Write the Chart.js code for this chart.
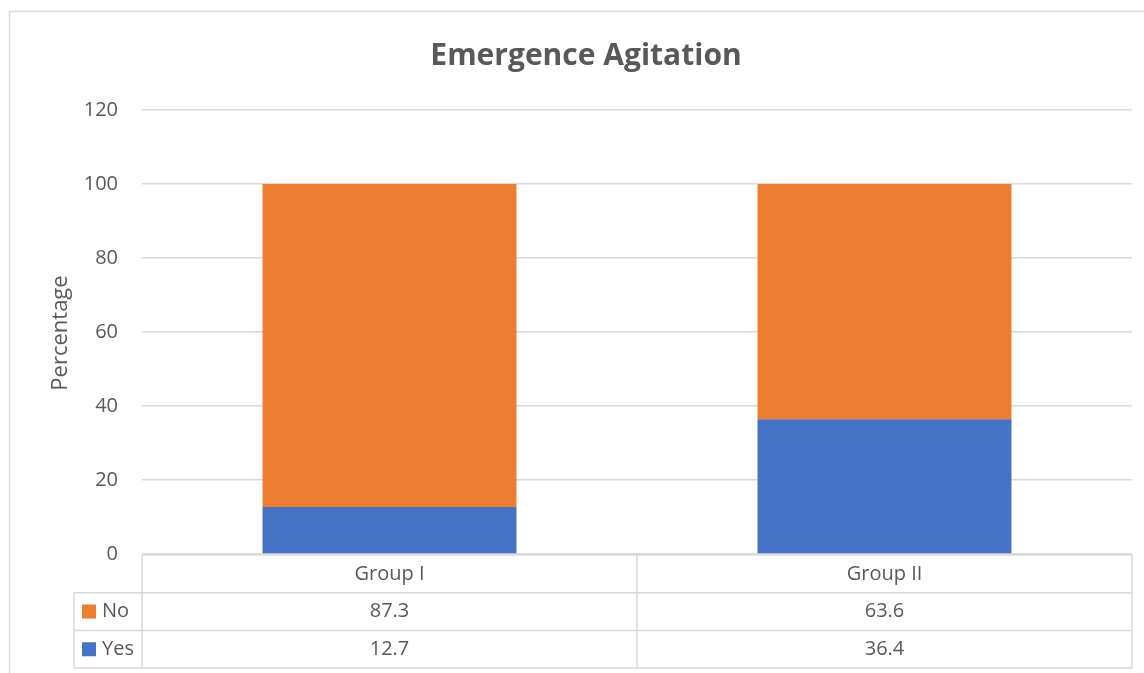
<!DOCTYPE html>
<html>
<head>
<meta charset="utf-8">
<script src="https://cdn.jsdelivr.net/npm/chart.js@4/dist/chart.umd.min.js"></script>
<style>
    html, body { margin: 0; padding: 0; background: #ffffff; }
    #wrap { position: relative; width: 1144px; height: 673px; }
</style>
</head>
<body>
<div id="wrap"><canvas id="agitationChart" width="1144" height="673"></canvas></div>
<script>
// Chart data
const categories = ['Group I', 'Group II'];
const seriesNames = ['No', 'Yes'];
const noValues = [87.3, 63.6];
const yesValues = [12.7, 36.4];
const yTicks = [0, 20, 40, 60, 80, 100, 120];

const chartTitle = 'Emergence Agitation';
const yAxisTitle = 'Percentage';

const textColor = '#595959';
const lineColor = '#d9d9d9';
const noColor = '#ED7D31';
const yesColor = '#4472C4';
const fontFamily = '"Open Sans", "Noto Sans", sans-serif';

// Draws title, axis title, outer border and the data table under the plot
const excelExtras = {
    id: 'excelExtras',
    afterDraw(chart) {
        const ctx = chart.ctx;
        const area = chart.chartArea;
        const xScale = chart.scales.x;

        ctx.save();

        // outer chart border
        ctx.strokeStyle = lineColor;
        ctx.lineWidth = 1.5;
        ctx.strokeRect(9.5, 11.5, 1170, 700);

        // title
        ctx.fillStyle = textColor;
        ctx.font = 'bold 30px ' + fontFamily;
        ctx.textAlign = 'center';
        ctx.textBaseline = 'middle';
        ctx.fillText(chartTitle, 586, 56);

        // y axis title
        ctx.save();
        ctx.translate(61, (area.top + area.bottom) / 2 + 1);
        ctx.rotate(-Math.PI / 2);
        ctx.font = '22px ' + fontFamily;
        ctx.fillText(yAxisTitle, 0, 0);
        ctx.restore();

        // data table
        const rowH = 37.7;
        const top = area.bottom + 1;
        const keyLeft = 74;
        const rows = [
            { name: seriesNames[0], color: noColor, values: noValues },
            { name: seriesNames[1], color: yesColor, values: yesValues }
        ];

        ctx.strokeStyle = lineColor;
        ctx.lineWidth = 1.5;
        ctx.beginPath();
        // top border of header row
        ctx.moveTo(area.left, top);
        ctx.lineTo(area.right, top);
        // row lines
        for (let r = 1; r <= rows.length + 1; r++) {
            ctx.moveTo(keyLeft, top + r * rowH);
            ctx.lineTo(area.right, top + r * rowH);
        }
        // verticals
        ctx.moveTo(keyLeft, top + rowH);
        ctx.lineTo(keyLeft, top + (rows.length + 1) * rowH);
        ctx.moveTo(area.left, top);
        ctx.lineTo(area.left, top + (rows.length + 1) * rowH);
        for (let i = 0; i < categories.length - 1; i++) {
            const mid = (xScale.getPixelForValue(i) + xScale.getPixelForValue(i + 1)) / 2;
            ctx.moveTo(mid, top);
            ctx.lineTo(mid, top + (rows.length + 1) * rowH);
        }
        ctx.moveTo(area.right, top);
        ctx.lineTo(area.right, top + (rows.length + 1) * rowH);
        ctx.stroke();

        ctx.fillStyle = textColor;
        ctx.font = '20px ' + fontFamily;
        ctx.textAlign = 'center';
        ctx.textBaseline = 'middle';
        categories.forEach((cat, i) => {
            ctx.fillText(cat, xScale.getPixelForValue(i), top + rowH / 2);
        });

        rows.forEach((row, r) => {
            const cy = top + (r + 1) * rowH + rowH / 2;
            ctx.fillStyle = row.color;
            ctx.fillRect(82, cy - 7, 14, 14);
            ctx.fillStyle = textColor;
            ctx.textAlign = 'left';
            ctx.fillText(row.name, 102, cy);
            ctx.textAlign = 'center';
            row.values.forEach((v, i) => {
                ctx.fillText(v.toFixed(1), xScale.getPixelForValue(i), cy);
            });
        });

        ctx.restore();
    }
};

const chart = new Chart(document.getElementById('agitationChart'), {
    type: 'bar',
    data: {
        labels: categories,
        datasets: [
            {
                label: seriesNames[1],
                data: yesValues,
                backgroundColor: yesColor,
                barPercentage: 0.513,
                categoryPercentage: 1
            },
            {
                label: seriesNames[0],
                data: noValues,
                backgroundColor: noColor,
                barPercentage: 0.513,
                categoryPercentage: 1
            }
        ]
    },
    options: {
        responsive: false,
        animation: false,
        layout: {
            padding: { top: 110, bottom: 119, left: 0, right: 12 }
        },
        plugins: {
            legend: { display: false },
            title: { display: false },
            tooltip: { enabled: false }
        },
        scales: {
            x: {
                stacked: true,
                grid: { display: false },
                border: { display: false },
                ticks: { display: false },
                afterFit: (scale) => { scale.height = 0; }
            },
            y: {
                stacked: true,
                min: 0,
                max: 120,
                afterBuildTicks: (scale) => {
                    scale.ticks = yTicks.map(v => ({ value: v }));
                },
                grid: {
                    color: lineColor,
                    lineWidth: 1.5,
                    drawTicks: false
                },
                border: { display: false },
                ticks: {
                    color: textColor,
                    padding: 24,
                    font: { family: fontFamily, size: 20 }
                },
                afterFit: (scale) => { scale.width = 142; }
            }
        }
    },
    plugins: [excelExtras]
});
</script>
</body>
</html>
